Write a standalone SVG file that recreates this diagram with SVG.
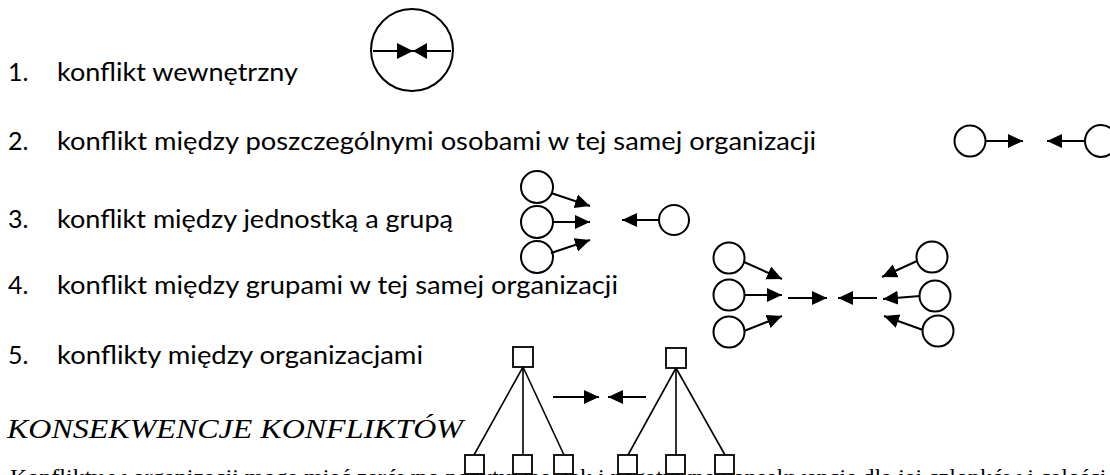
<svg xmlns="http://www.w3.org/2000/svg" width="1110" height="475" viewBox="0 0 1110 475">
<style>
.t{font-family:Lato,"Open Sans","Liberation Sans",sans-serif;font-size:25px;fill:#000}
.h{font-family:"Liberation Serif","Times New Roman",serif;font-style:italic;font-size:27px;fill:#000}
.b{font-family:"Liberation Serif","Times New Roman",serif;font-size:24px;fill:#000}
.c{fill:#fff;stroke:#000;stroke-width:2}
.l{fill:none;stroke:#000;stroke-width:2}
.tl{fill:none;stroke:#000;stroke-width:1.6}
.bx{fill:#fff;stroke:#000;stroke-width:1.8}
</style>
<defs>
<marker id="ah" markerUnits="userSpaceOnUse" markerWidth="16" markerHeight="15" refX="15" refY="7" orient="auto">
<path d="M0,0 L15,7 L0,14 z" fill="#000"/>
</marker>
</defs>
<text class="b" x="10" y="485">Konflikty w organizacji mogą mieć zarówno pozytywne, jak i negatywne konsekwencje dla jej członków i całości.</text>
<g id="list">
<text class="t" x="8" y="81">1.</text><text class="t" x="57" y="81" textLength="241" lengthAdjust="spacingAndGlyphs">konflikt wewnętrzny</text>
<text class="t" x="8" y="150">2.</text><text class="t" x="57" y="150" textLength="759" lengthAdjust="spacingAndGlyphs">konflikt między poszczególnymi osobami w tej samej organizacji</text>
<text class="t" x="8" y="228">3.</text><text class="t" x="57" y="228" textLength="396" lengthAdjust="spacingAndGlyphs">konflikt między jednostką a grupą</text>
<text class="t" x="8" y="294">4.</text><text class="t" x="57" y="294" textLength="561" lengthAdjust="spacingAndGlyphs">konflikt między grupami w tej samej organizacji</text>
<text class="t" x="8" y="364">5.</text><text class="t" x="57" y="364" textLength="366" lengthAdjust="spacingAndGlyphs">konflikty między organizacjami</text>
</g>
<text id="heading" class="h" x="7" y="438" textLength="456" lengthAdjust="spacingAndGlyphs">KONSEKWENCJE KONFLIKTÓW</text>
<g id="n1">
<circle class="c" cx="412" cy="50" r="41"/>
<line class="l" x1="373" y1="51" x2="451" y2="51"/>
<path d="M397,43 L413,51 L397,59 z M427,43 L413,51 L427,59 z" fill="#000"/>
</g>
<g id="n2">
<circle class="c" cx="970" cy="141" r="15.5"/>
<circle class="c" cx="1101" cy="141" r="16"/>
</g>
<g id="n3">
<circle class="c" cx="537" cy="187" r="16"/>
<circle class="c" cx="537" cy="222" r="16"/>
<circle class="c" cx="537" cy="257" r="16"/>
<circle class="c" cx="674" cy="220" r="15"/>
</g>
<g id="n4">
<circle class="c" cx="729" cy="258" r="15.5"/>
<circle class="c" cx="729" cy="295" r="15.5"/>
<circle class="c" cx="729" cy="332" r="15.5"/>
<circle class="c" cx="932" cy="257" r="15.5"/>
<circle class="c" cx="935" cy="296" r="15.5"/>
<circle class="c" cx="938" cy="331" r="15.5"/>
</g>
<g id="n5">
<line class="tl" x1="523" y1="367" x2="474" y2="455"/>
<line class="tl" x1="523" y1="367" x2="523" y2="455"/>
<line class="tl" x1="523" y1="367" x2="564" y2="455"/>
<line class="tl" x1="676" y1="368" x2="628" y2="455"/>
<line class="tl" x1="676" y1="368" x2="676" y2="455"/>
<line class="tl" x1="676" y1="368" x2="725" y2="455"/>
<rect class="bx" x="513" y="347" width="20" height="20"/>
<rect class="bx" x="666" y="348" width="20" height="20"/>
<rect class="bx" x="465" y="455" width="19" height="19"/>
<rect class="bx" x="513" y="455" width="19" height="19"/>
<rect class="bx" x="554" y="455" width="19" height="19"/>
<rect class="bx" x="618" y="455" width="19" height="19"/>
<rect class="bx" x="666" y="455" width="19" height="19"/>
<rect class="bx" x="715" y="455" width="19" height="19"/>
</g>
<g id="connectors" class="l" marker-end="url(#ah)">
<line x1="986" y1="141" x2="1023" y2="141"/>
<line x1="1085" y1="141" x2="1047" y2="141"/>
<line x1="551" y1="193" x2="590" y2="206"/>
<line x1="553" y1="222" x2="590" y2="222"/>
<line x1="551" y1="253" x2="590" y2="240"/>
<line x1="659" y1="220" x2="622" y2="220"/>
<line x1="744" y1="262" x2="782" y2="279"/>
<line x1="745" y1="295" x2="782" y2="295"/>
<line x1="744" y1="331" x2="782" y2="316"/>
<line x1="788" y1="298" x2="827" y2="298"/>
<line x1="877" y1="298" x2="838" y2="298"/>
<line x1="917" y1="261" x2="882" y2="277"/>
<line x1="920" y1="296" x2="883" y2="299"/>
<line x1="923" y1="330" x2="884" y2="316"/>
<line x1="553" y1="397" x2="599" y2="397"/>
<line x1="646" y1="397" x2="608" y2="397"/>
</g>
</svg>
